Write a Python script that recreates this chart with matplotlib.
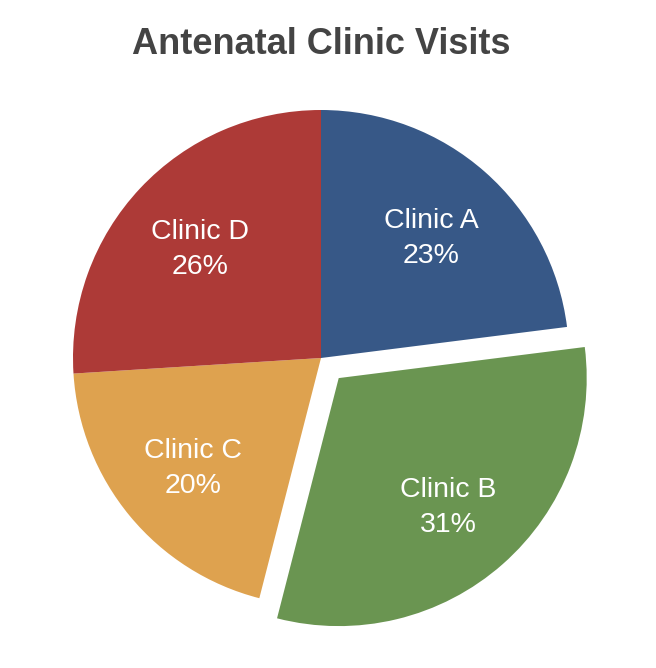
import numpy as np
import matplotlib.pyplot as plt

clinics = ["Clinic A", "Clinic B", "Clinic C", "Clinic D"]
visits = [23, 31, 20, 26]
colors = ["#375887", "#6a9551", "#dea24f", "#ad3a37"]
explode = [0, 0.108, 0, 0]

plt.rcParams['font.family'] = ['Liberation Sans', 'DejaVu Sans']

fig = plt.figure(figsize=(6.56, 6.68), dpi=100)

# axes placed so that pie centre sits at (321, 358) px, radius 248 px
R = 248.0
half = 1.3 * R
cx, cy = 321.0, 668 - 358.0
ax = fig.add_axes([(cx - half) / 656, (cy - half) / 668, 2 * half / 656, 2 * half / 668])

wedges, _ = ax.pie(visits, colors=colors, explode=explode, startangle=90,
                   counterclock=False, radius=1.0)
ax.set_xlim(-1.3, 1.3)
ax.set_ylim(-1.3, 1.3)
ax.set_aspect('equal')
ax.axis('off')

total = sum(visits)
for w, name, v in zip(wedges, clinics, visits):
    ang = np.deg2rad((w.theta1 + w.theta2) / 2)
    x0, y0 = w.center
    d = 0.67
    ax.text(x0 + d * np.cos(ang), y0 + d * np.sin(ang) - 0.02,
            f"{name}\n{v / total * 100:.0f}%", color="white",
            fontsize=20.5, ha="center", va="center", linespacing=1.45)

fig.text(cx / 656, 1 - 44 / 668, "Antenatal Clinic Visits", ha="center",
         va="center", fontsize=26, fontweight="bold", color="#444444")

fig.savefig("out.png", dpi=100)
